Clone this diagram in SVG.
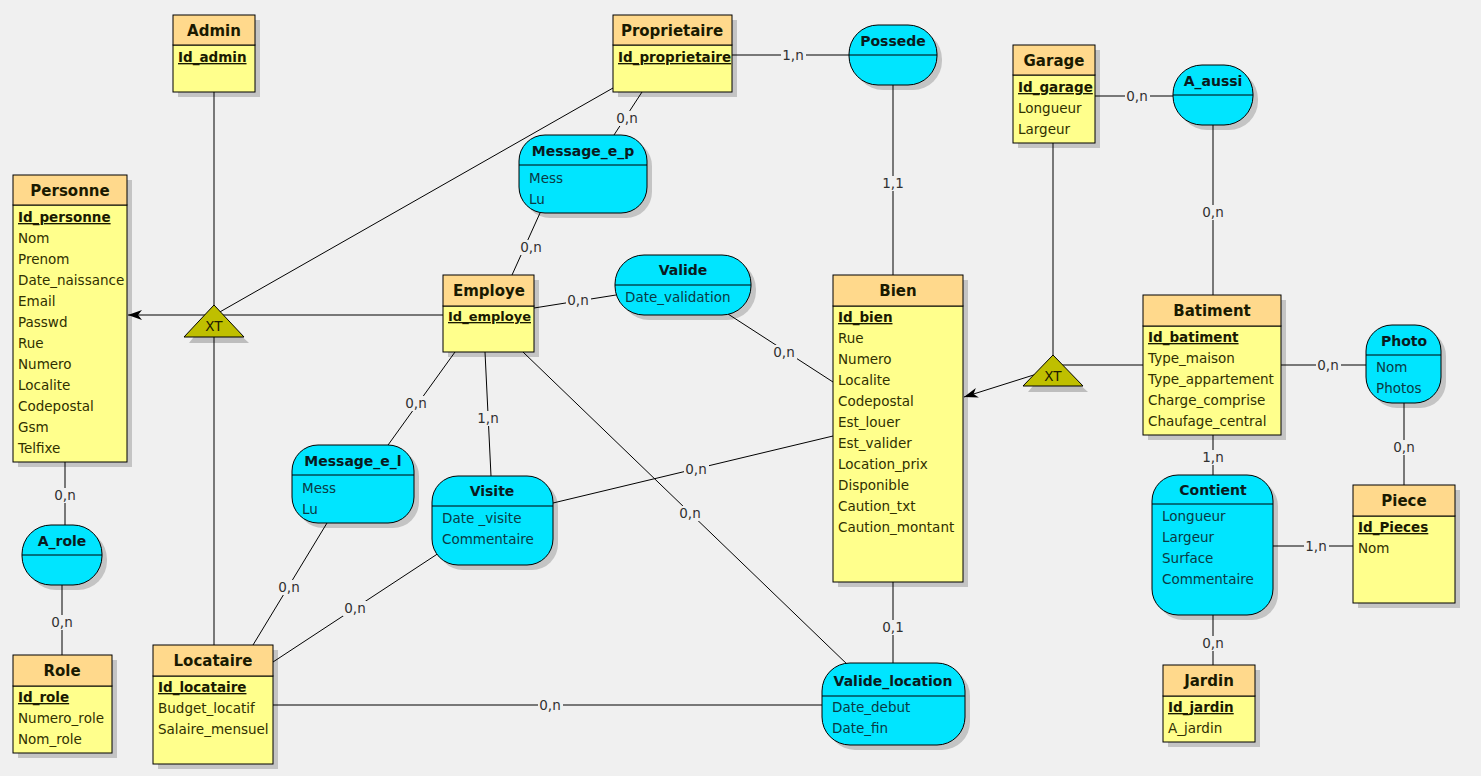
<svg xmlns="http://www.w3.org/2000/svg" width="1481" height="776" viewBox="0 0 1481 776">
<style>
text{font-family:"DejaVu Sans","Liberation Sans",sans-serif;}
.sh{fill:#c4c4c4;stroke:none}
.hd{fill:#ffd98c;stroke:#000;stroke-width:1}
.bd{fill:#ffff8c;stroke:#000;stroke-width:1}
.as{fill:#00e5ff;stroke:#000;stroke-width:1}
.sep{stroke:#000;stroke-width:1}
.t{font-size:15px;font-weight:bold;fill:#1a1a00;text-anchor:middle}
.at{font-size:14px;font-weight:bold;fill:#0a1a20;text-anchor:middle}
.k{font-size:13.5px;font-weight:bold;fill:#1a1a00;text-decoration:underline}
.a{font-size:13.5px;fill:#303000}
.aa{font-size:13.5px;fill:#0a3a44}
.c{stroke:#000;stroke-width:1;fill:none}
.lb{fill:#f0f0f0;stroke:none}
.l{font-size:13.5px;fill:#303030;text-anchor:middle}
.xt{fill:#bfbf00;stroke:#000;stroke-width:1}
.xts{fill:#bdbdbd}
.xtt{font-size:13.5px;fill:#202000;text-anchor:middle}
</style>
<defs>
<marker id="arr" viewBox="0 0 14 10" refX="14" refY="5" markerWidth="14" markerHeight="10" markerUnits="userSpaceOnUse" orient="auto">
<path d="M0,0 L14,5 L0,10 L4,5 Z" fill="#000"/>
</marker>
</defs>
<rect x="0" y="0" width="1481" height="776" fill="#f0f0f0"/>

<g id="shadows">
<rect class="sh" x="178" y="20" width="82" height="77"/>
<rect class="sh" x="618" y="20" width="119" height="77"/>
<rect class="sh" x="18" y="180" width="114" height="287"/>
<rect class="sh" x="1018" y="50" width="82" height="98"/>
<rect class="sh" x="448" y="280" width="91" height="77"/>
<rect class="sh" x="838" y="280" width="130" height="307"/>
<rect class="sh" x="1148" y="300" width="138" height="140"/>
<rect class="sh" x="1358" y="490" width="102" height="118"/>
<rect class="sh" x="18" y="660" width="99" height="98"/>
<rect class="sh" x="158" y="650" width="120" height="119"/>
<rect class="sh" x="1168" y="670" width="92" height="77"/>
<rect class="sh" x="854" y="30" width="88" height="60" rx="29"/>
<rect class="sh" x="1178" y="70" width="80" height="60" rx="29"/>
<rect class="sh" x="524" y="140" width="128" height="78" rx="26"/>
<rect class="sh" x="620" y="260" width="136" height="60" rx="29"/>
<rect class="sh" x="1371" y="330" width="75" height="78" rx="26"/>
<rect class="sh" x="297" y="450" width="122" height="78" rx="26"/>
<rect class="sh" x="437" y="481" width="121" height="89" rx="26"/>
<rect class="sh" x="1157" y="480" width="121" height="140" rx="26"/>
<rect class="sh" x="27" y="530" width="80" height="60" rx="29"/>
<rect class="sh" x="827" y="668" width="143" height="82" rx="28"/>
<polygon class="xts" points="214,311 249,343 189,343"/>
<polygon class="xts" points="1053,361 1088,392 1028,392"/>
</g>

<g id="connectors">
<line class="c" x1="214" y1="92" x2="214" y2="645"/>
<line class="c" x1="613" y1="88" x2="218" y2="313"/>
<line class="c" x1="443" y1="315" x2="128" y2="315" marker-end="url(#arr)"/>
<line class="c" x1="732" y1="55" x2="849" y2="55"/>
<line class="c" x1="893" y1="85" x2="893" y2="275"/>
<line class="c" x1="642" y1="92" x2="614" y2="135"/>
<line class="c" x1="540" y1="213" x2="512" y2="275"/>
<line class="c" x1="534" y1="308" x2="616" y2="295"/>
<line class="c" x1="728" y1="314" x2="833" y2="382"/>
<line class="c" x1="455" y1="352" x2="383" y2="452"/>
<line class="c" x1="485" y1="352" x2="491" y2="476"/>
<line class="c" x1="523" y1="352" x2="850" y2="667"/>
<line class="c" x1="553" y1="503" x2="833" y2="436"/>
<line class="c" x1="327" y1="523" x2="253" y2="645"/>
<line class="c" x1="445" y1="549" x2="273" y2="662"/>
<line class="c" x1="273" y1="705" x2="822" y2="705"/>
<line class="c" x1="893" y1="582" x2="893" y2="663"/>
<line class="c" x1="1095" y1="96" x2="1173" y2="96"/>
<line class="c" x1="1213" y1="125" x2="1213" y2="295"/>
<line class="c" x1="1053" y1="143" x2="1053" y2="360"/>
<line class="c" x1="1060" y1="365" x2="1143" y2="365"/>
<line class="c" x1="1040" y1="373" x2="964" y2="397" marker-end="url(#arr)"/>
<line class="c" x1="1281" y1="365" x2="1366" y2="365"/>
<line class="c" x1="1404" y1="403" x2="1404" y2="485"/>
<line class="c" x1="1213" y1="435" x2="1213" y2="475"/>
<line class="c" x1="1273" y1="546" x2="1353" y2="546"/>
<line class="c" x1="1213" y1="615" x2="1213" y2="665"/>
<line class="c" x1="65" y1="462" x2="65" y2="525"/>
<line class="c" x1="62" y1="585" x2="62" y2="655"/>
<rect class="lb" x="781" y="48" width="25" height="15"/><text class="l" x="793" y="60">1,n</text>
<rect class="lb" x="881" y="176" width="25" height="15"/><text class="l" x="893" y="188">1,1</text>
<rect class="lb" x="615" y="111" width="25" height="15"/><text class="l" x="627" y="123">0,n</text>
<rect class="lb" x="519" y="240" width="25" height="15"/><text class="l" x="531" y="252">0,n</text>
<rect class="lb" x="566" y="293" width="25" height="15"/><text class="l" x="578" y="305">0,n</text>
<rect class="lb" x="772" y="345" width="25" height="15"/><text class="l" x="784" y="357">0,n</text>
<rect class="lb" x="404" y="396" width="25" height="15"/><text class="l" x="416" y="408">0,n</text>
<rect class="lb" x="476" y="411" width="25" height="15"/><text class="l" x="488" y="423">1,n</text>
<rect class="lb" x="678" y="506" width="25" height="15"/><text class="l" x="690" y="518">0,n</text>
<rect class="lb" x="684" y="462" width="25" height="15"/><text class="l" x="696" y="474">0,n</text>
<rect class="lb" x="277" y="580" width="25" height="15"/><text class="l" x="289" y="592">0,n</text>
<rect class="lb" x="343" y="601" width="25" height="15"/><text class="l" x="355" y="613">0,n</text>
<rect class="lb" x="538" y="698" width="25" height="15"/><text class="l" x="550" y="710">0,n</text>
<rect class="lb" x="881" y="620" width="25" height="15"/><text class="l" x="893" y="632">0,1</text>
<rect class="lb" x="1125" y="89" width="25" height="15"/><text class="l" x="1137" y="101">0,n</text>
<rect class="lb" x="1201" y="205" width="25" height="15"/><text class="l" x="1213" y="217">0,n</text>
<rect class="lb" x="1316" y="358" width="25" height="15"/><text class="l" x="1328" y="370">0,n</text>
<rect class="lb" x="1392" y="440" width="25" height="15"/><text class="l" x="1404" y="452">0,n</text>
<rect class="lb" x="1201" y="450" width="25" height="15"/><text class="l" x="1213" y="462">1,n</text>
<rect class="lb" x="1304" y="539" width="25" height="15"/><text class="l" x="1316" y="551">1,n</text>
<rect class="lb" x="1201" y="636" width="25" height="15"/><text class="l" x="1213" y="648">0,n</text>
<rect class="lb" x="53" y="488" width="25" height="15"/><text class="l" x="65" y="500">0,n</text>
<rect class="lb" x="50" y="615" width="25" height="15"/><text class="l" x="62" y="627">0,n</text>
</g>

<g id="xt_left">
<polygon class="xt" points="214,305 244,337 184,337"/>
<text class="xtt" x="214" y="331">XT</text>
</g>
<g id="xt_right">
<polygon class="xt" points="1053,355 1083,386 1023,386"/>
<text class="xtt" x="1053" y="381">XT</text>
</g>

<g id="admin">
<rect class="bd" x="173" y="45" width="82" height="47"/>
<rect class="hd" x="173" y="15" width="82" height="30"/>
<text class="t" x="214" y="36">Admin</text>
<text class="k" x="178" y="62">Id_admin</text>
</g>

<g id="proprietaire">
<rect class="bd" x="613" y="45" width="119" height="47"/>
<rect class="hd" x="613" y="15" width="119" height="30"/>
<text class="t" x="672" y="36">Proprietaire</text>
<text class="k" x="618" y="62">Id_proprietaire</text>
</g>

<g id="personne">
<rect class="bd" x="13" y="205" width="114" height="257"/>
<rect class="hd" x="13" y="175" width="114" height="30"/>
<text class="t" x="70" y="196">Personne</text>
<text class="k" x="18" y="222">Id_personne</text>
<text class="a" x="18" y="243">Nom</text>
<text class="a" x="18" y="264">Prenom</text>
<text class="a" x="18" y="285">Date_naissance</text>
<text class="a" x="18" y="306">Email</text>
<text class="a" x="18" y="327">Passwd</text>
<text class="a" x="18" y="348">Rue</text>
<text class="a" x="18" y="369">Numero</text>
<text class="a" x="18" y="390">Localite</text>
<text class="a" x="18" y="411">Codepostal</text>
<text class="a" x="18" y="432">Gsm</text>
<text class="a" x="18" y="453">Telfixe</text>
</g>

<g id="garage">
<rect class="bd" x="1013" y="75" width="82" height="68"/>
<rect class="hd" x="1013" y="45" width="82" height="30"/>
<text class="t" x="1054" y="66">Garage</text>
<text class="k" x="1018" y="92">Id_garage</text>
<text class="a" x="1018" y="113">Longueur</text>
<text class="a" x="1018" y="134">Largeur</text>
</g>

<g id="employe">
<rect class="bd" x="443" y="306" width="91" height="46"/>
<rect class="hd" x="443" y="275" width="91" height="31"/>
<text class="t" x="489" y="296">Employe</text>
<text class="k" x="448" y="321" style="font-size:13px">Id_employe</text>
</g>

<g id="bien">
<rect class="bd" x="833" y="306" width="130" height="276"/>
<rect class="hd" x="833" y="275" width="130" height="31"/>
<text class="t" x="898" y="296">Bien</text>
<text class="k" x="838" y="322">Id_bien</text>
<text class="a" x="838" y="343">Rue</text>
<text class="a" x="838" y="364">Numero</text>
<text class="a" x="838" y="385">Localite</text>
<text class="a" x="838" y="406">Codepostal</text>
<text class="a" x="838" y="427">Est_louer</text>
<text class="a" x="838" y="448">Est_valider</text>
<text class="a" x="838" y="469">Location_prix</text>
<text class="a" x="838" y="490">Disponible</text>
<text class="a" x="838" y="511">Caution_txt</text>
<text class="a" x="838" y="532">Caution_montant</text>
</g>

<g id="batiment">
<rect class="bd" x="1143" y="326" width="138" height="109"/>
<rect class="hd" x="1143" y="295" width="138" height="31"/>
<text class="t" x="1212" y="316">Batiment</text>
<text class="k" x="1148" y="342">Id_batiment</text>
<text class="a" x="1148" y="363">Type_maison</text>
<text class="a" x="1148" y="384">Type_appartement</text>
<text class="a" x="1148" y="405">Charge_comprise</text>
<text class="a" x="1148" y="426">Chaufage_central</text>
</g>

<g id="piece">
<rect class="bd" x="1353" y="516" width="102" height="87"/>
<rect class="hd" x="1353" y="485" width="102" height="31"/>
<text class="t" x="1404" y="506">Piece</text>
<text class="k" x="1358" y="532">Id_Pieces</text>
<text class="a" x="1358" y="553">Nom</text>
</g>

<g id="role">
<rect class="bd" x="13" y="686" width="99" height="67"/>
<rect class="hd" x="13" y="655" width="99" height="31"/>
<text class="t" x="62" y="676">Role</text>
<text class="k" x="18" y="702">Id_role</text>
<text class="a" x="18" y="723">Numero_role</text>
<text class="a" x="18" y="744">Nom_role</text>
</g>

<g id="locataire">
<rect class="bd" x="153" y="676" width="120" height="88"/>
<rect class="hd" x="153" y="645" width="120" height="31"/>
<text class="t" x="213" y="666">Locataire</text>
<text class="k" x="158" y="692">Id_locataire</text>
<text class="a" x="158" y="713">Budget_locatif</text>
<text class="a" x="158" y="734">Salaire_mensuel</text>
</g>

<g id="jardin">
<rect class="bd" x="1163" y="696" width="92" height="46"/>
<rect class="hd" x="1163" y="665" width="92" height="31"/>
<text class="t" x="1209" y="686">Jardin</text>
<text class="k" x="1168" y="712">Id_jardin</text>
<text class="a" x="1168" y="733">A_jardin</text>
</g>

<g id="possede">
<rect class="as" x="849" y="25" width="88" height="60" rx="29"/>
<line class="sep" x1="849" y1="55" x2="937" y2="55"/>
<text class="at" x="893" y="46">Possede</text>
</g>

<g id="a_aussi">
<rect class="as" x="1173" y="65" width="80" height="60" rx="29"/>
<line class="sep" x1="1173" y1="95" x2="1253" y2="95"/>
<text class="at" x="1213" y="86">A_aussi</text>
</g>

<g id="message_e_p">
<rect class="as" x="519" y="135" width="128" height="78" rx="26"/>
<line class="sep" x1="519" y1="165" x2="647" y2="165"/>
<text class="at" x="583" y="156">Message_e_p</text>
<text class="aa" x="529" y="183">Mess</text>
<text class="aa" x="529" y="204">Lu</text>
</g>

<g id="valide">
<rect class="as" x="615" y="255" width="136" height="60" rx="29"/>
<line class="sep" x1="615" y1="285" x2="751" y2="285"/>
<text class="at" x="683" y="275">Valide</text>
<text class="aa" x="625" y="302">Date_validation</text>
</g>

<g id="photo">
<rect class="as" x="1366" y="325" width="75" height="78" rx="26"/>
<line class="sep" x1="1366" y1="355" x2="1441" y2="355"/>
<text class="at" x="1404" y="346">Photo</text>
<text class="aa" x="1376" y="372">Nom</text>
<text class="aa" x="1376" y="393">Photos</text>
</g>

<g id="message_e_l">
<rect class="as" x="292" y="445" width="122" height="78" rx="26"/>
<line class="sep" x1="292" y1="475" x2="414" y2="475"/>
<text class="at" x="353" y="466">Message_e_l</text>
<text class="aa" x="302" y="493">Mess</text>
<text class="aa" x="302" y="514">Lu</text>
</g>

<g id="visite">
<rect class="as" x="432" y="476" width="121" height="89" rx="26"/>
<line class="sep" x1="432" y1="506" x2="553" y2="506"/>
<text class="at" x="492" y="496">Visite</text>
<text class="aa" x="442" y="523">Date _visite</text>
<text class="aa" x="442" y="544">Commentaire</text>
</g>

<g id="contient">
<rect class="as" x="1152" y="475" width="121" height="140" rx="26"/>
<line class="sep" x1="1152" y1="504" x2="1273" y2="504"/>
<text class="at" x="1213" y="495">Contient</text>
<text class="aa" x="1162" y="521">Longueur</text>
<text class="aa" x="1162" y="542">Largeur</text>
<text class="aa" x="1162" y="563">Surface</text>
<text class="aa" x="1162" y="584">Commentaire</text>
</g>

<g id="a_role">
<rect class="as" x="22" y="525" width="80" height="60" rx="29"/>
<line class="sep" x1="22" y1="555" x2="102" y2="555"/>
<text class="at" x="62" y="546">A_role</text>
</g>

<g id="valide_location">
<rect class="as" x="822" y="663" width="143" height="82" rx="28"/>
<line class="sep" x1="822" y1="696" x2="965" y2="696"/>
<text class="at" x="893" y="686">Valide_location</text>
<text class="aa" x="832" y="712">Date_debut</text>
<text class="aa" x="832" y="733">Date_fin</text>
</g>
</svg>
